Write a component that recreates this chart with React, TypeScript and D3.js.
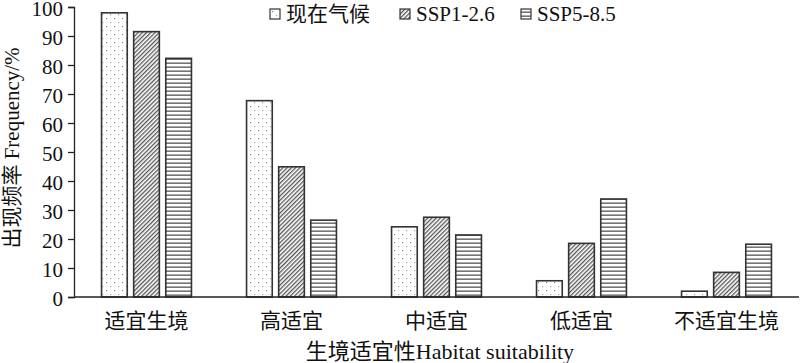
import React, { useRef, useEffect } from "react";
import * as d3 from "d3";

const categories = ["适宜生境", "高适宜", "中适宜", "低适宜", "不适宜生境"];
const seriesNames = ["现在气候", "SSP1-2.6", "SSP5-8.5"];
const current = [98, 67.7, 24.2, 5.6, 2.0];
const ssp126 = [91.5, 44.9, 27.5, 18.5, 8.5];
const ssp585 = [82.3, 26.5, 21.4, 33.8, 18.2];
const yTicks = [0, 10, 20, 30, 40, 50, 60, 70, 80, 90, 100];

const serif = "'Liberation Serif', 'Times New Roman', 'Noto Sans CJK SC', serif";

const App = () => {
  const svgRef = useRef<SVGSVGElement>(null);

  useEffect(() => {
    const svg = d3.select(svgRef.current);
    svg.selectAll("*").remove();

    const width = 800;
    const height = 363;
    const left = 74;
    const right = 799;
    const top = 7;
    const bottom = 297;
    const values = [current, ssp126, ssp585];
    const patterns = ["dots", "diag", "hlines"];

    const defs = svg.append("defs");
    // dotted pattern
    const pd = defs
      .append("pattern")
      .attr("id", "dots")
      .attr("patternUnits", "userSpaceOnUse")
      .attr("width", 8)
      .attr("height", 8);
    pd.append("rect").attr("width", 8).attr("height", 8).attr("fill", "#fff");
    pd.append("rect").attr("x", 2).attr("y", 2).attr("width", 1.2).attr("height", 1.2).attr("fill", "#888");
    pd.append("rect").attr("x", 6).attr("y", 6).attr("width", 1.2).attr("height", 1.2).attr("fill", "#aaa");
    // diagonal hatch
    const ph = defs
      .append("pattern")
      .attr("id", "diag")
      .attr("patternUnits", "userSpaceOnUse")
      .attr("width", 3)
      .attr("height", 3)
      .attr("patternTransform", "rotate(45)");
    ph.append("rect").attr("width", 3).attr("height", 3).attr("fill", "#fff");
    ph.append("rect").attr("width", 1.3).attr("height", 3).attr("fill", "#555");
    // horizontal lines
    const pl = defs
      .append("pattern")
      .attr("id", "hlines")
      .attr("patternUnits", "userSpaceOnUse")
      .attr("width", 6)
      .attr("height", 4);
    pl.append("rect").attr("width", 6).attr("height", 4).attr("fill", "#fff");
    pl.append("rect").attr("y", 2.5).attr("width", 6).attr("height", 1.3).attr("fill", "#555");

    svg.attr("width", width).attr("height", height);

    const x0 = d3
      .scaleBand()
      .domain(categories)
      .range([left, right])
      .paddingInner(0.38)
      .paddingOuter(0.19);
    const x1 = d3
      .scaleBand()
      .domain(seriesNames)
      .range([0, x0.bandwidth()])
      .paddingInner(0.2);
    const y = d3.scaleLinear().domain([0, 100]).range([bottom, top]);

    // bars
    seriesNames.forEach((s, si) => {
      svg
        .append("g")
        .selectAll("rect")
        .data(values[si])
        .enter()
        .append("rect")
        .attr("x", (d, i) => x0(categories[i]) + x1(s))
        .attr("y", (d) => y(d))
        .attr("width", x1.bandwidth())
        .attr("height", (d) => bottom - y(d))
        .attr("fill", `url(#${patterns[si]})`)
        .attr("stroke", "#333")
        .attr("stroke-width", 1.6);
    });

    // axes
    const yAxis = svg
      .append("g")
      .attr("transform", `translate(${left},0)`)
      .call(d3.axisLeft(y).tickValues(yTicks).tickSize(6).tickPadding(5));
    yAxis.select(".domain").attr("stroke", "#222").attr("stroke-width", 1.3);
    yAxis.selectAll(".tick line").attr("stroke", "#222").attr("stroke-width", 1.3);
    yAxis
      .selectAll(".tick text")
      .attr("font-family", serif)
      .attr("font-size", 21)
      .attr("dy", "0.42em")
      .attr("fill", "#111");

    svg
      .append("line")
      .attr("x1", left)
      .attr("x2", right)
      .attr("y1", bottom)
      .attr("y2", bottom)
      .attr("stroke", "#222")
      .attr("stroke-width", 1.3);

    svg
      .append("g")
      .selectAll("text")
      .data(categories)
      .enter()
      .append("text")
      .attr("x", (d) => x0(d) + x0.bandwidth() / 2)
      .attr("y", 328)
      .attr("text-anchor", "middle")
      .attr("font-family", serif)
      .attr("font-size", 21)
      .attr("fill", "#111")
      .text((d) => d);

    // axis titles
    svg
      .append("text")
      .attr("x", 440)
      .attr("y", 359)
      .attr("text-anchor", "middle")
      .attr("font-family", serif)
      .attr("font-size", 22)
      .attr("fill", "#111")
      .text("生境适宜性Habitat suitability");

    svg
      .append("text")
      .attr("transform", "translate(19,148) rotate(-90)")
      .attr("text-anchor", "middle")
      .attr("font-family", serif)
      .attr("font-size", 21)
      .attr("fill", "#111")
      .text("出现频率 Frequency/%");

    // legend
    const legendX = [270, 400, 521];
    const legend = svg
      .append("g")
      .selectAll("g")
      .data(seriesNames)
      .enter()
      .append("g")
      .attr("transform", (d, i) => `translate(${legendX[i]},9)`);
    legend
      .append("rect")
      .attr("width", 10)
      .attr("height", 10)
      .attr("fill", (d, i) => `url(#${patterns[i]})`)
      .attr("stroke", "#333")
      .attr("stroke-width", 1.2);
    legend
      .append("text")
      .attr("x", 16)
      .attr("y", 12)
      .attr("font-family", serif)
      .attr("font-size", 21)
      .attr("fill", "#111")
      .text((d) => d);
  }, []);

  return <svg ref={svgRef} style={{ position: "absolute", left: 0, top: 0 }}></svg>;
};

export default App;
